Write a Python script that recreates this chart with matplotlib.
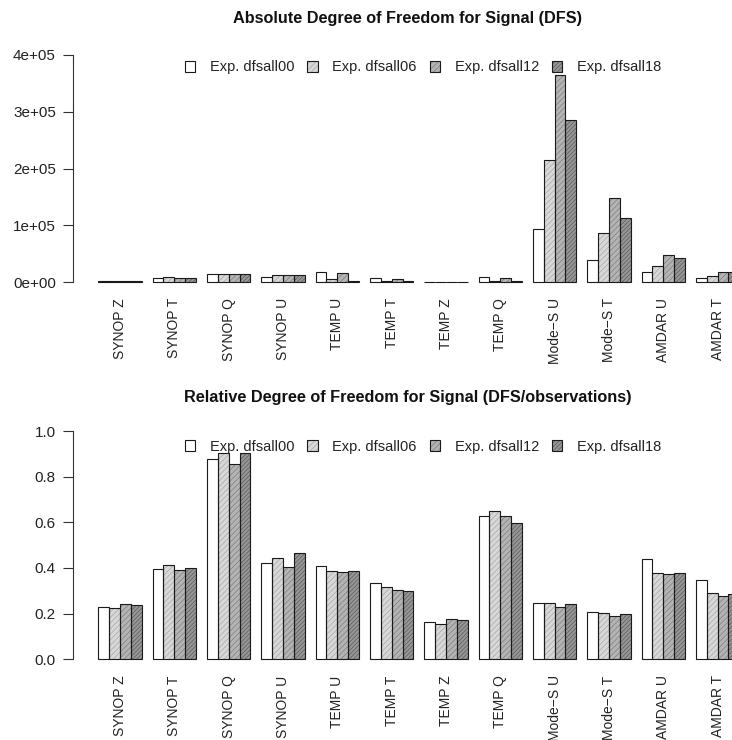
import numpy as np
import matplotlib
matplotlib.use("Agg")
import matplotlib.pyplot as plt
from matplotlib.legend_handler import HandlerTuple

plt.rcParams["font.family"] = ["Liberation Sans", "DejaVu Sans"]
plt.rcParams["hatch.linewidth"] = 0.45

# Observation types (one group of bars each)
categories = ["SYNOP Z", "SYNOP T", "SYNOP Q", "SYNOP U", "TEMP U", "TEMP T",
              "TEMP Z", "TEMP Q", "Mode\u2212S U", "Mode\u2212S T", "AMDAR U", "AMDAR T"]
experiments = ["Exp. dfsall00", "Exp. dfsall06", "Exp. dfsall12", "Exp. dfsall18"]

# Absolute DFS per experiment
abs_dfsall00 = [2000, 7600, 14000, 9500, 17600, 7600, 800, 8200, 94000, 39400, 17600, 6500]
abs_dfsall06 = [2000, 8800, 15000, 12000, 4700, 1000, 800, 2000, 214500, 87000, 28800, 10600]
abs_dfsall12 = [2000, 7600, 14000, 12000, 16500, 6000, 800, 7600, 365000, 148000, 48200, 18200]
abs_dfsall18 = [2000, 7600, 14000, 12000, 1000, 1000, 800, 1500, 285000, 113000, 42900, 18000]

# Relative DFS (DFS / number of observations) per experiment
rel_dfsall00 = [0.229, 0.396, 0.876, 0.420, 0.407, 0.336, 0.162, 0.626, 0.248, 0.207, 0.441, 0.346]
rel_dfsall06 = [0.223, 0.412, 0.902, 0.445, 0.388, 0.317, 0.153, 0.651, 0.247, 0.204, 0.380, 0.289]
rel_dfsall12 = [0.244, 0.391, 0.854, 0.406, 0.381, 0.302, 0.175, 0.629, 0.229, 0.188, 0.374, 0.279]
rel_dfsall18 = [0.238, 0.401, 0.902, 0.466, 0.385, 0.298, 0.171, 0.597, 0.244, 0.199, 0.377, 0.285]

abs_ticks = [0, 100000, 200000, 300000, 400000]
abs_ticklabels = ["0e+00", "1e+05", "2e+05", "3e+05", "4e+05"]
rel_ticks = [0.0, 0.2, 0.4, 0.6, 0.8, 1.0]
rel_ticklabels = ["0.0", "0.2", "0.4", "0.6", "0.8", "1.0"]

# Bar styles: white, then increasingly dark finely hatched greys
faces = ["white", "#d8d8d8", "#b4b4b4", "#969696"]
hatch_cols = ["white", "#a2a2a2", "#787878", "#555555"]
hatches = [None, "//////", "//////", "////////"]

n_groups = len(categories)
n_series = len(experiments)
group_left = 1 + (n_series + 1) * np.arange(n_groups)
group_centers = group_left + n_series / 2.0


def barplot(ax, series, ticks, ticklabels, ylim):
    handles = []
    for j, vals in enumerate(series):
        x = group_left + j + 0.5
        hb = ax.bar(x, vals, width=1.0, color=faces[j], edgecolor=hatch_cols[j],
                    hatch=hatches[j], linewidth=0, zorder=2)
        ob = ax.bar(x, vals, width=1.0, facecolor="none", edgecolor="#1a1a1a",
                    linewidth=0.8, zorder=3)
        handles.append((hb.patches[0], ob.patches[0]))
    ax.set_xlim(-1.36, 62.36)
    ax.set_ylim(*ylim)
    for s in ["top", "right", "bottom"]:
        ax.spines[s].set_visible(False)
    ax.spines["left"].set_bounds(ticks[0], ticks[-1])
    ax.spines["left"].set_color("#333333")
    ax.spines["left"].set_linewidth(0.8)
    ax.set_yticks(ticks)
    ax.set_yticklabels(ticklabels)
    ax.tick_params(axis="y", length=7, width=0.8, pad=5, labelsize=11,
                   colors="#333333", labelcolor="#222222")
    ax.set_xticks(group_centers)
    ax.set_xticklabels(categories, rotation=90, va="top", ha="center")
    ax.tick_params(axis="x", length=0, pad=5, labelsize=10, labelcolor="#222222")
    return handles


fig = plt.figure(figsize=(7.32, 7.40), dpi=100)

ax1 = fig.add_axes([72.6 / 732, 1 - 291.1 / 740, 692.4 / 732, 245.2 / 740])
h1 = barplot(ax1, [abs_dfsall00, abs_dfsall06, abs_dfsall12, abs_dfsall18],
             abs_ticks, abs_ticklabels, (-16000, 416000))

ax2 = fig.add_axes([72.6 / 732, 1 - 668.4 / 740, 692.4 / 732, 246.5 / 740])
h2 = barplot(ax2, [rel_dfsall00, rel_dfsall06, rel_dfsall12, rel_dfsall18],
             rel_ticks, rel_ticklabels, (-0.04, 1.04))

fig.text(408 / 732, 1 - 19 / 740, "Absolute Degree of Freedom for Signal (DFS)",
         ha="center", va="center", fontsize=11.7, fontweight="bold", color="#111111")
fig.text(408 / 732, 1 - 397.5 / 740,
         "Relative Degree of Freedom for Signal (DFS/observations)",
         ha="center", va="center", fontsize=11.7, fontweight="bold", color="#111111")

for handles, ypix in [(h1, 67.5), (h2, 446.5)]:
    fig.legend(handles, experiments, loc="center left",
               bbox_to_anchor=(185 / 732, 1 - ypix / 740),
               ncol=4, frameon=False, fontsize=10.5, borderpad=0, borderaxespad=0,
               handlelength=0.7, handleheight=0.7, handletextpad=1.0,
               columnspacing=0.9, labelcolor="#222222",
               handler_map={tuple: HandlerTuple(ndivide=1)})

fig.savefig("out.png", dpi=100, facecolor="white")
